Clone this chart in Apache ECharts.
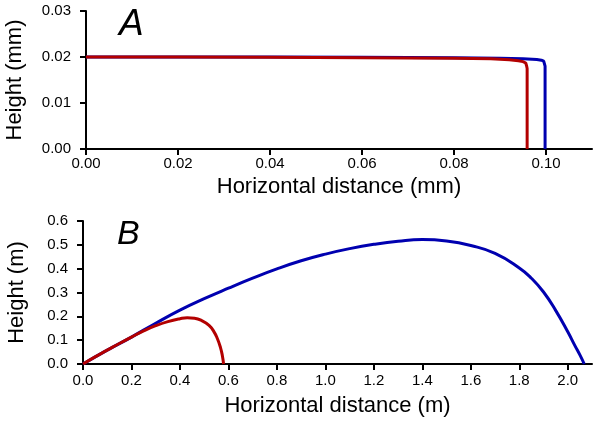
<!DOCTYPE html>
<html>
<head>
<meta charset="utf-8">
<script src="https://cdn.jsdelivr.net/npm/echarts@6/dist/echarts.min.js"></script>
<style>
html,body{margin:0;padding:0;background:#fff;}
#chart{width:600px;height:422px;}
</style>
</head>
<body>
<div id="chart"></div>
<script>
// Panel A (mm)
var aXTicks = [0, 0.02, 0.04, 0.06, 0.08, 0.10];
var aYTicks = [0, 0.01, 0.02, 0.03];
var aBlue = [[0,0.02],[0.02,0.02],[0.04,0.01998],[0.06,0.01994],[0.08,0.01986],[0.09,0.01975],[0.095,0.01962],[0.098,0.01945],[0.099,0.0193],[0.0995,0.0191],[0.0997,0.0187],[0.0998,0.018],[0.0998,0]];
var aRed = [[0,0.02],[0.02,0.01998],[0.04,0.01993],[0.06,0.01985],[0.08,0.01972],[0.088,0.0196],[0.092,0.0194],[0.094,0.0192],[0.095,0.019],[0.0956,0.0187],[0.0958,0.018],[0.0959,0.0175],[0.0959,0]];
// Panel B (m)
var bXTicks = [0,0.2,0.4,0.6,0.8,1.0,1.2,1.4,1.6,1.8,2.0];
var bYTicks = [0,0.1,0.2,0.3,0.4,0.5,0.6];
var bBlue = [[0,0],[0.1,0.058],[0.2,0.113],[0.3,0.171],[0.4,0.226],[0.5,0.274],[0.6,0.318],[0.7,0.36],[0.8,0.399],[0.9,0.433],[1.0,0.461],[1.1,0.484],[1.2,0.502],[1.3,0.515],[1.4,0.522],[1.5,0.516],[1.6,0.497],[1.7,0.464],[1.8,0.403],[1.85,0.36],[1.9,0.302],[1.95,0.225],[2.0,0.135],[2.03,0.076],[2.05,0.038],[2.068,0]];
var bRed = [[0,0],[0.05,0.03],[0.1,0.058],[0.15,0.086],[0.2,0.113],[0.25,0.139],[0.3,0.161],[0.35,0.178],[0.4,0.19],[0.43,0.194],[0.46,0.192],[0.49,0.182],[0.52,0.162],[0.54,0.136],[0.555,0.105],[0.567,0.07],[0.575,0.035],[0.58,0]];

var FONT = "'Liberation Sans', Arial, Helvetica, sans-serif";
var BLUE = '#0000b0', RED = '#b30000';

function axisCommon(ticks, digits, margin) {
  return {
    axisLine: {show: true, onZero: false, lineStyle: {color: '#000', width: 2}},
    axisTick: {show: true, length: 6, lineStyle: {color: '#000', width: 2}, customValues: ticks},
    axisLabel: {color: '#000', fontSize: 15, fontFamily: FONT, margin: margin, customValues: ticks,
      formatter: function (v) { return (+v).toFixed(digits); }},
    splitLine: {show: false},
    nameTextStyle: {color: '#000', fontSize: 22, fontFamily: FONT}
  };
}
function mk(base, extra) { return Object.assign(base, extra); }

var chart = echarts.init(document.getElementById('chart'), null, {renderer: 'canvas'});
chart.setOption({
  animation: false,
  backgroundColor: '#fff',
  grid: [
    {left: 86, top: 11, width: 506, height: 138, containLabel: false, outerBoundsMode: 'none'},
    {left: 83, top: 221, width: 509, height: 143, containLabel: false, outerBoundsMode: 'none'}
  ],
  xAxis: [
    mk(axisCommon(aXTicks, 2, 7), {type: 'value', gridIndex: 0, min: 0, max: 0.11, interval: 0.01,
      name: 'Horizontal distance (mm)', nameLocation: 'middle', nameGap: 27}),
    mk(axisCommon(bXTicks, 1, 9), {type: 'value', gridIndex: 1, min: 0, max: 2.1, interval: 0.1,
      name: 'Horizontal distance (m)', nameLocation: 'middle', nameGap: 31})
  ],
  yAxis: [
    mk(axisCommon(aYTicks, 2, 15), {type: 'value', gridIndex: 0, min: 0, max: 0.03, interval: 0.01,
      name: 'Height (mm)', nameLocation: 'middle', nameGap: 60}),
    mk(axisCommon(bYTicks, 1, 15), {type: 'value', gridIndex: 1, min: 0, max: 0.6, interval: 0.1,
      name: 'Height (m)', nameLocation: 'middle', nameGap: 55})
  ],
  graphic: [
    {type: 'text', left: 119, top: 6, style: {text: 'A', fontSize: 37, fontStyle: 'italic', fontFamily: FONT, fill: '#000'}},
    {type: 'text', left: 117, top: 218, style: {text: 'B', fontSize: 34, fontStyle: 'italic', fontFamily: FONT, fill: '#000'}}
  ],
  series: [
    {type: 'line', xAxisIndex: 0, yAxisIndex: 0, data: aBlue, showSymbol: false, smooth: false, lineStyle: {color: BLUE, width: 3}},
    {type: 'line', xAxisIndex: 0, yAxisIndex: 0, data: aRed, showSymbol: false, smooth: false, lineStyle: {color: RED, width: 3}},
    {type: 'line', xAxisIndex: 1, yAxisIndex: 1, data: bBlue, showSymbol: false, smooth: 0.5, lineStyle: {color: BLUE, width: 3}},
    {type: 'line', xAxisIndex: 1, yAxisIndex: 1, data: bRed, showSymbol: false, smooth: 0.5, lineStyle: {color: RED, width: 3}}
  ]
});
</script>
</body>
</html>
